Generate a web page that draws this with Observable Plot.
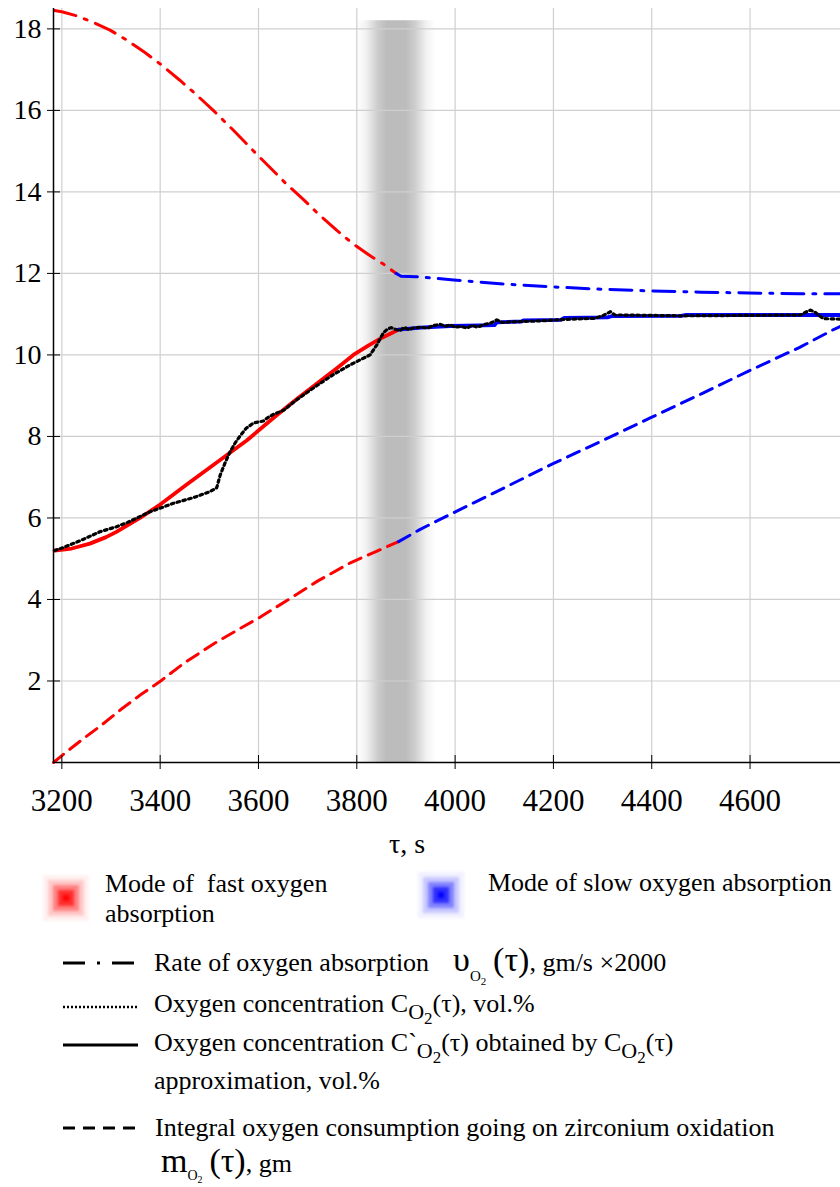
<!DOCTYPE html>
<html><head><meta charset="utf-8">
<script src="https://cdn.jsdelivr.net/npm/d3@7"></script>
<script src="https://cdn.jsdelivr.net/npm/@observablehq/plot@0.6"></script>
<style>
body{margin:0;background:#fff;font-family:"Liberation Serif","Times New Roman",serif;}
#wrap{position:relative;width:840px;height:1187px;overflow:hidden;}
#chart{position:absolute;left:0;top:0;}
.t{position:absolute;font-size:26px;line-height:30px;white-space:nowrap;color:#000;}
.big{font-size:34px;line-height:0;}
sub{line-height:0;}
.sw{position:absolute;width:6px;height:6px;filter:blur(1.5px);}
.sw.r{background:#ff0000;box-shadow:0 0 0 5px rgba(255,20,20,0.75),0 0 0 10px rgba(255,60,60,0.5),0 0 0 15px rgba(255,110,110,0.3),0 0 0 20px rgba(255,160,160,0.15);}
.sw.b{background:#0000ff;box-shadow:0 0 0 5px rgba(20,20,255,0.75),0 0 0 10px rgba(60,60,255,0.5),0 0 0 15px rgba(110,110,255,0.3),0 0 0 20px rgba(160,160,255,0.15);}
</style></head><body>
<div id="wrap">
<div id="chart"></div>
<div class="sw r" style="left:63px;top:895px;"></div>
<div class="sw b" style="left:438px;top:892px;"></div>
<div class="t" style="left:105px;top:869px;">Mode of&nbsp; fast oxygen<br>absorption</div>
<div class="t" style="left:488px;top:868px;">Mode of slow oxygen absorption</div>
<svg style="position:absolute;left:0;top:0;" width="840" height="1187">
<line x1="63" x2="138" y1="963" y2="963" stroke="#000" stroke-width="3" stroke-dasharray="22,12,3,12"/>
<line x1="63" x2="138" y1="1007" y2="1007" stroke="#000" stroke-width="2.5" stroke-dasharray="2,2"/>
<line x1="63" x2="138" y1="1045" y2="1045" stroke="#000" stroke-width="3"/>
<line x1="63" x2="138" y1="1128" y2="1128" stroke="#000" stroke-width="3" stroke-dasharray="12,8"/>
</svg>
<div class="t" style="left:154px;top:948px;">Rate of oxygen absorption<span class="big" style="margin-left:24px">υ</span><sub style="font-size:15px;vertical-align:-10px">O<sub style="font-size:11px;vertical-align:-4px">2</sub></sub><span class="big">&thinsp;(τ)</span>, gm/s ×2000</div>
<div class="t" style="left:154px;top:989px;">Oxygen concentration C<sub style="font-size:22px;vertical-align:-7px">O<sub style="font-size:17px;vertical-align:-5px">2</sub></sub>(τ), vol.%</div>
<div class="t" style="left:154px;top:1028px;">Oxygen concentration C`<sub style="font-size:22px;vertical-align:-7px">O<sub style="font-size:17px;vertical-align:-5px">2</sub></sub>(τ) obtained by C<sub style="font-size:22px;vertical-align:-7px">O<sub style="font-size:17px;vertical-align:-5px">2</sub></sub>(τ)</div>
<div class="t" style="left:154px;top:1066px;">approximation, vol.%</div>
<div class="t" style="left:155px;top:1113px;">Integral oxygen consumption going on zirconium oxidation</div>
<div class="t" style="left:161px;top:1149px;"><span class="big">m</span><sub style="font-size:14px;vertical-align:-8px">O<sub style="font-size:10px;vertical-align:-3px">2</sub></sub><span class="big">&thinsp;(τ)</span>, gm</div>
</div>
<script>
// ---- data ----
const xDomain = [3183, 4784];
const yDomain = [0, 18.5];
const xTicks = [3200, 3400, 3600, 3800, 4000, 4200, 4400, 4600];
const yTicks = [2, 4, 6, 8, 10, 12, 14, 16, 18];
const xLabel = "τ, s";
const modeBand = [{x1: 3800, x2: 3962, y1: 0, y2: 18.2}];

const rateFast = [[3185,18.45],[3200,18.42],[3230,18.32],[3260,18.18],[3298,17.97],[3330,17.74],[3369,17.42],[3400,17.14],[3440,16.74],[3475,16.37],[3508,16.0],[3550,15.5],[3596,14.93],[3630,14.52],[3657,14.19],[3690,13.83],[3719,13.49],[3760,13.05],[3793,12.72],[3825,12.45],[3854,12.23],[3880,12.0]];
const rateSlow = [[3880,12.0],[3890,11.93],[3920,11.92],[3997,11.84],[4100,11.74],[4197,11.67],[4300,11.61],[4398,11.57],[4500,11.54],[4598,11.52],[4700,11.5],[4784,11.5]];

const concMeasured = [[3185,5.2],[3200,5.26],[3237,5.44],[3277,5.66],[3310,5.78],[3332,5.88],[3379,6.15],[3400,6.24],[3427,6.36],[3468,6.5],[3500,6.64],[3515,6.74],[3522,7.05],[3532,7.35],[3542,7.62],[3553,7.85],[3563,8.02],[3575,8.2],[3590,8.33],[3610,8.38],[3620,8.47],[3630,8.54],[3651,8.64],[3680,8.92],[3719,9.25],[3750,9.5],[3787,9.76],[3827,10.0],[3841,10.25],[3854,10.54],[3862,10.63],[3870,10.67],[3880,10.62],[3888,10.6],[3897,10.68],[3905,10.62],[3915,10.66],[3929,10.68],[3945,10.66],[3955,10.72],[3970,10.75],[3980,10.7],[3990,10.74],[4000,10.68],[4011,10.7],[4025,10.66],[4035,10.73],[4045,10.68],[4060,10.75],[4072,10.78],[4085,10.86],[4095,10.8],[4133,10.82],[4180,10.84],[4221,10.87],[4260,10.89],[4285,10.9],[4300,10.96],[4316,11.06],[4325,10.98],[4337,10.98],[4459,10.96],[4600,10.97],[4703,10.98],[4715,11.06],[4723,11.1],[4733,11.04],[4742,10.95],[4750,10.89],[4784,10.88]];

const concApproxFast = [[3185,5.2],[3220,5.25],[3257,5.37],[3290,5.53],[3311,5.66],[3359,6.0],[3400,6.33],[3454,6.82],[3515,7.36],[3576,7.9],[3637,8.52],[3680,8.94],[3719,9.3],[3760,9.68],[3793,10.0],[3825,10.24],[3848,10.4],[3870,10.53],[3885,10.62]];
const concApproxSlow = [[3885,10.62],[3930,10.67],[3990,10.71],[4080,10.73],[4085,10.8],[4135,10.82],[4140,10.85],[4215,10.86],[4222,10.91],[4310,10.92],[4318,10.95],[4460,10.96],[4470,10.98],[4784,10.98]];

const integralFast = [[3183,0],[3200,0.17],[3240,0.55],[3281,0.92],[3320,1.3],[3360,1.66],[3401,2.0],[3450,2.45],[3510,2.92],[3560,3.27],[3601,3.55],[3664,4.02],[3720,4.45],[3787,4.9],[3840,5.18],[3885,5.42]];
const integralSlow = [[3885,5.42],[3929,5.72],[3997,6.13],[4100,6.74],[4197,7.32],[4300,7.9],[4398,8.46],[4500,9.04],[4598,9.61],[4700,10.18],[4771,10.63],[4784,10.7]];

const RED = "#ff0000", BLUE = "#0000ff";
const ln = (data, stroke, opts) => Plot.line(data, {x: d => d[0], y: d => d[1], stroke, ...opts});
const rateStyle = {strokeWidth: 3, strokeDasharray: "22,9,3,9"};
const dashStyle = {strokeWidth: 3, strokeDasharray: "13,8"};
const solidStyle = {strokeWidth: 3.8};
const dotStyle = {strokeWidth: 3.2, strokeDasharray: "2.6,3.4"};

const plot = Plot.plot({
  width: 840, height: 870,
  marginTop: 8, marginLeft: 53, marginRight: 0, marginBottom: 108,
  style: {fontFamily: "'Liberation Serif', 'Times New Roman', serif", background: "white", color: "black", overflow: "visible"},
  x: {domain: xDomain, label: null},
  y: {domain: yDomain, label: null},
  marks: [
    Plot.rect(modeBand, {x1: "x1", x2: "x2", y1: "y1", y2: "y2", fill: "url(#bandGrad)"}),
    Plot.gridX(xTicks, {stroke: "#cfcfcf", strokeOpacity: 1, strokeWidth: 1.2}),
    Plot.gridY(yTicks, {stroke: "#cfcfcf", strokeOpacity: 1, strokeWidth: 1.2}),
    ln(integralFast, RED, dashStyle),
    ln(integralSlow, BLUE, dashStyle),
    ln(rateFast, RED, rateStyle),
    ln(rateSlow, BLUE, rateStyle),
    ln(concApproxFast, RED, solidStyle),
    ln(concApproxSlow, BLUE, solidStyle),
    ln(concMeasured, "black", dotStyle),
    Plot.ruleX([xDomain[0]], {stroke: "black", strokeWidth: 1.5}),
    Plot.ruleY([yDomain[0]], {stroke: "black", strokeWidth: 1.5}),
    Plot.axisX(xTicks, {tickSize: 7, tickPadding: 19, fontSize: 31, tickFormat: "d", stroke: "black"}),
    Plot.axisX(xTicks, {tickSize: -7, tickFormat: () => "", stroke: "black"}),
    Plot.axisY(yTicks, {tickSize: 6, tickPadding: 6, fontSize: 28, tickFormat: "d", stroke: "black"}),
    Plot.axisY([0, ...yTicks], {tickSize: -7, tickFormat: () => "", stroke: "black"}),
    Plot.text([xLabel], {frameAnchor: "bottom", dx: -40, dy: 90, fontSize: 28, fill: "black"})
  ]
});
const ns = "http://www.w3.org/2000/svg";
const defs = document.createElementNS(ns, "defs");
defs.innerHTML = `<linearGradient id="bandGrad" x1="0" x2="1" y1="0" y2="0">
<stop offset="0" stop-color="#ffffff"/>
<stop offset="0.12" stop-color="#f2f2f2"/>
<stop offset="0.27" stop-color="#cccccc"/>
<stop offset="0.38" stop-color="#bcbcbc"/>
<stop offset="0.62" stop-color="#bcbcbc"/>
<stop offset="0.73" stop-color="#cccccc"/>
<stop offset="0.88" stop-color="#f2f2f2"/>
<stop offset="1" stop-color="#ffffff"/>
</linearGradient>`;
plot.insertBefore(defs, plot.firstChild);
document.getElementById("chart").appendChild(plot);
</script>
</body></html>
